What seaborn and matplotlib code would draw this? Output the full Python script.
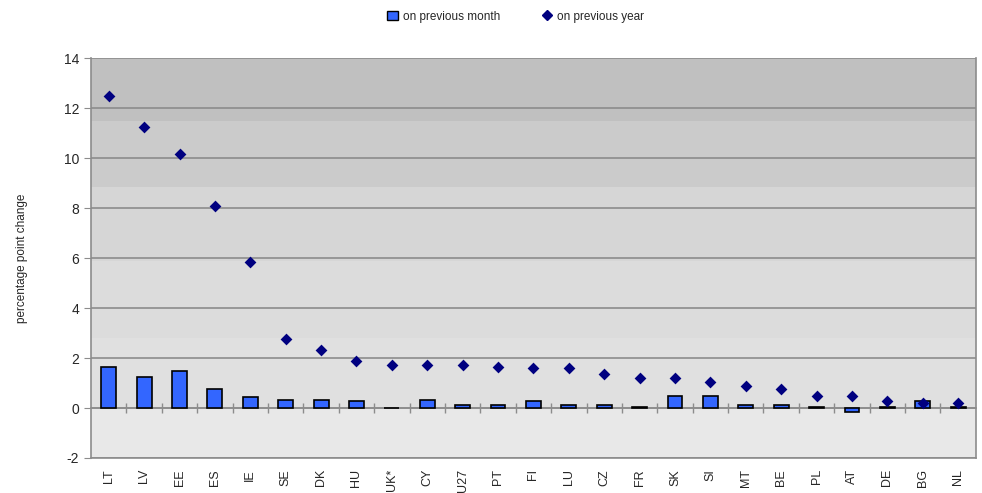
import pandas as pd
import seaborn as sns
import matplotlib.pyplot as plt
from matplotlib.patches import Patch
from matplotlib.lines import Line2D

# data
countries = ['LT', 'LV', 'EE', 'ES', 'IE', 'SE', 'DK', 'HU', 'UK*', 'CY', 'U27', 'PT', 'FI',
             'LU', 'CZ', 'FR', 'SK', 'SI', 'MT', 'BE', 'PL', 'AT', 'DE', 'BG', 'NL']
prev_month = [1.63, 1.23, 1.5, 0.78, 0.46, 0.34, 0.34, 0.27, 0.0, 0.34, 0.14, 0.14, 0.27,
              0.14, 0.14, 0.06, 0.47, 0.47, 0.14, 0.14, 0.06, -0.14, 0.05, 0.27, 0.05]
prev_year = [12.5, 11.26, 10.18, 8.1, 5.86, 2.77, 2.34, 1.9, 1.74, 1.74, 1.74, 1.63, 1.59,
             1.59, 1.35, 1.21, 1.21, 1.05, 0.88, 0.76, 0.49, 0.49, 0.29, 0.21, 0.19]

df = pd.DataFrame({'country': countries, 'month': prev_month, 'year': prev_year})

sns.set_style('white')
plt.rcParams['font.family'] = ['Liberation Sans', 'DejaVu Sans']
plt.rcParams['axes.unicode_minus'] = False

fig = plt.figure(figsize=(9.82, 4.93), dpi=100)
ax = fig.add_axes([0.0927, 0.071, 0.901, 0.811])

# banded grey background
ax.set_facecolor('#e8e8e8')
bands = [(0, 2.8, '#e0e0e0'), (2.8, 5.9, '#dcdcdc'), (5.9, 8.85, '#d6d6d6'),
         (8.85, 11.5, '#cbcbcb'), (11.5, 14, '#c0c0c0')]
for lo, hi, c in bands:
    ax.axhspan(lo, hi, color=c, lw=0, zorder=0)

sns.barplot(data=df, x='country', y='month', color='#3366ff', edgecolor='black',
            linewidth=1.2, width=0.42, saturation=1, ax=ax, zorder=3)
sns.stripplot(data=df, x='country', y='year', marker='D', color='#000080', size=6,
              jitter=False, ax=ax, zorder=4)

ax.set_ylim(-2, 14)
ax.set_xlim(-0.5, len(countries) - 0.5)
ax.set_yticks(range(-2, 15, 2))
ax.yaxis.grid(True, color='#8c8c8c', lw=1.2, zorder=1)
ax.set_axisbelow(True)
ax.set_xlabel('')
ax.set_ylabel('percentage point change', fontsize=8.5, labelpad=26)
ax.tick_params(axis='y', labelsize=10, length=5, color='#8c8c8c', direction='out', left=True)
ax.tick_params(axis='x', labelsize=9, rotation=90, length=0, pad=8)
for s in ['left', 'right', 'bottom']:
    ax.spines[s].set_color('#8c8c8c')
    ax.spines[s].set_linewidth(1.2)
ax.spines['top'].set_visible(False)

# category axis crossing at zero
zero_ax = ax.secondary_xaxis(2 / 16)
zero_ax.set_xticks([i + 0.5 for i in range(len(countries) - 1)])
zero_ax.set_xticklabels([])
zero_ax.tick_params(direction='inout', length=7, color='#8c8c8c', width=1)
zero_ax.spines['bottom'].set_color('#8c8c8c')
zero_ax.spines['bottom'].set_linewidth(1.2)

handles = [Patch(facecolor='#3366ff', edgecolor='black', label='on previous month'),
           Line2D([], [], marker='D', color='#000080', ls='', markersize=5, label='on previous year')]
fig.legend(handles=handles, loc='upper center', bbox_to_anchor=(0.525, 1.0), ncol=2,
           frameon=False, fontsize=8.5, handlelength=0.9, handleheight=0.9,
           columnspacing=3.5, handletextpad=0.4)

fig.savefig('out.png', dpi=100)
